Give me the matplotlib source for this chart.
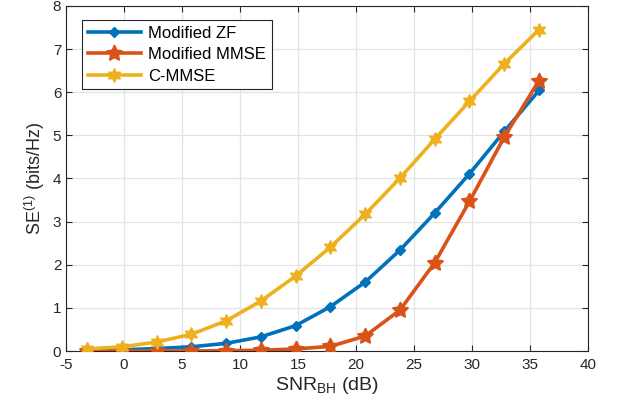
import matplotlib
matplotlib.use("Agg")
import matplotlib.pyplot as plt
import numpy as np

plt.rcParams['font.family'] = ['Liberation Sans', 'DejaVu Sans']
plt.rcParams['mathtext.default'] = 'regular'
plt.rcParams['axes.unicode_minus'] = False

# SNR_BH points (dB)
snr = [-3.2, -0.2, 2.8, 5.8, 8.8, 11.8, 14.8, 17.8, 20.8, 23.8, 26.8, 29.8, 32.8, 35.8]

# spectral efficiency values
se_zf = [0.01, 0.03, 0.06, 0.10, 0.18, 0.33, 0.59, 1.03, 1.60, 2.34, 3.20, 4.11, 5.09, 6.04]
se_mmse = [0.0, 0.0, 0.0, 0.005, 0.01, 0.02, 0.05, 0.11, 0.35, 0.95, 2.05, 3.47, 4.96, 6.27]
se_cmmse = [0.05, 0.10, 0.21, 0.39, 0.70, 1.16, 1.74, 2.41, 3.17, 4.01, 4.91, 5.79, 6.66, 7.45]

labels = ['Modified ZF', 'Modified MMSE', 'C-MMSE']

fig = plt.figure(figsize=(6.18, 4.19), dpi=100)
ax = fig.add_axes([0.107, 0.162, 0.844, 0.824])

ax.plot(snr, se_zf, color='#0072BD', lw=2.6, marker='D', ms=5.5, label=labels[0], zorder=3)
ax.plot(snr, se_mmse, color='#D95319', lw=2.6, marker=(5, 1, 0), ms=12, label=labels[1], zorder=3)
ax.plot(snr, se_cmmse, color='#EDB120', lw=2.6, marker=(6, 1, 0), ms=10, label=labels[2], zorder=3)

ax.set_xlim(-5, 40)
ax.set_ylim(0, 8)
ax.set_xticks(np.arange(-5, 41, 5))
ax.set_yticks(np.arange(0, 9, 1))
ax.grid(True, color='#e3e3e3', lw=0.9)
ax.set_axisbelow(True)
ax.tick_params(direction='in', top=True, right=True, labelsize=11, colors='#262626',
               length=4, width=0.8)
ax.tick_params(axis='x', pad=5)
for s in ax.spines.values():
    s.set_color('#262626')
    s.set_linewidth(0.8)

ax.set_xlabel('SNR$_{BH}$ (dB)', fontsize=14, color='#262626', labelpad=2)
ax.set_ylabel('SE$^{(1)}$ (bits/Hz)', fontsize=13, color='#262626', labelpad=4)

leg = ax.legend(loc='upper left', bbox_to_anchor=(0.014, 0.983), fontsize=12,
                fancybox=False, edgecolor='#262626', handlelength=3.2,
                borderpad=0.35, labelspacing=0.38, handletextpad=0.45, framealpha=1)
leg.get_frame().set_linewidth(0.8)

fig.savefig('out.png', dpi=100)
